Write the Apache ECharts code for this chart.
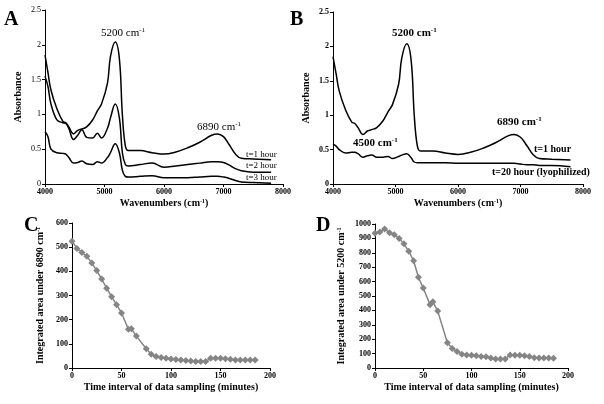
<!DOCTYPE html>
<html lang="en">
<head>
    <meta charset="UTF-8">
    <title>spectra</title>
    <script src="https://cdn.jsdelivr.net/npm/echarts@6/dist/echarts.min.js"></script>
</head>
<body style="margin:0">
<div id="main" style="width: 604px;height:404px;"></div>
<script>
    // wavenumber samples (cm-1) used for all spectra
    const wave = [4000, 4050, 4100, 4200, 4300, 4350, 4400, 4480, 4550, 4620, 4700, 4800, 4880, 4950,
        5050, 5100, 5180, 5250, 5300, 5350, 5400, 5600, 5800, 6000, 6200, 6400, 6600, 6800, 6900,
        7000, 7100, 7200, 7300, 7500, 7800];
    const abs1h = [1.85, 1.6, 1.35, 1.08, 0.9, 0.88, 0.82, 0.72, 0.77, 0.79, 0.82, 0.92, 1.05, 1.15,
        1.45, 1.83, 2.04, 1.8, 1.0, 0.55, 0.48, 0.48, 0.45, 0.43, 0.46, 0.52, 0.6, 0.7, 0.72,
        0.68, 0.56, 0.43, 0.37, 0.36, 0.35];
    const abs2h = [1.55, 1.4, 1.15, 0.92, 0.88, 0.87, 0.8, 0.64, 0.7, 0.78, 0.67, 0.66, 0.73, 0.66,
        0.8, 0.95, 1.15, 0.95, 0.45, 0.28, 0.26, 0.28, 0.3, 0.24, 0.26, 0.28, 0.3, 0.32, 0.32,
        0.31, 0.27, 0.22, 0.19, 0.17, 0.17];
    const abs3h = [0.75, 0.68, 0.5, 0.45, 0.44, 0.43, 0.38, 0.3, 0.31, 0.33, 0.29, 0.28, 0.32, 0.3,
        0.38, 0.45, 0.58, 0.45, 0.2, 0.11, 0.1, 0.11, 0.12, 0.09, 0.09, 0.09, 0.1, 0.11, 0.11,
        0.1, 0.08, 0.05, 0.03, 0.02, 0.01];
    const abs20h = [0.58, 0.55, 0.5, 0.45, 0.46, 0.46, 0.44, 0.39, 0.41, 0.42, 0.39, 0.39, 0.4, 0.37,
        0.4, 0.42, 0.44, 0.38, 0.32, 0.31, 0.31, 0.31, 0.31, 0.3, 0.3, 0.3, 0.3, 0.3, 0.3,
        0.29, 0.28, 0.28, 0.27, 0.27, 0.25];

    // sampling times (minutes) and integrated areas
    const times = [0, 5, 10, 15, 20, 25, 30, 35, 40, 45, 50, 57, 60, 65, 75, 80, 85, 90, 95, 100,
        105, 110, 115, 120, 125, 130, 135, 140, 145, 150, 155, 160, 165, 170, 175, 180, 185];
    const area6890 = [525, 495, 478, 462, 435, 403, 368, 330, 295, 262, 228, 160, 162, 132, 80, 57,
        48, 43, 40, 37, 35, 33, 31, 29, 27, 27, 27, 40, 40, 40, 38, 36, 33, 33, 33, 33, 33];
    const area5200 = [935, 945, 965, 940, 925, 900, 862, 810, 745, 630, 555, 440, 460, 395, 175, 135,
        115, 95, 90, 88, 85, 80, 78, 70, 63, 63, 63, 90, 88, 88, 85, 80, 72, 70, 70, 70, 68];

    const font = 'Liberation Serif';
    const pairs = (xs, ys) => xs.map((x, i) => [x, ys[i]]);
    const sup = {
        a: {fontFamily: font, fontSize: 10, fontWeight: 'bold', color: '#000'},
        s: {fontFamily: font, fontSize: 6, fontWeight: 'bold', color: '#000', verticalAlign: 'top', padding: [0, 0, 5, 0]}
    };

    function xAx(idx, min, max, interval, name, bold) {
        return {
            type: 'value', gridIndex: idx, min: min, max: max, interval: interval,
            name: name, nameLocation: 'middle', nameGap: 14,
            nameTextStyle: {rich: sup},
            axisLine: {lineStyle: {color: '#000', width: 1}},
            axisTick: {length: 3, lineStyle: {color: '#000'}},
            axisLabel: {fontFamily: font, fontSize: 8, fontWeight: bold ? 'bold' : 'normal', color: '#000', margin: 4,
                formatter: v => String(v)},
            splitLine: {show: false}
        };
    }
    function yAx(idx, min, max, interval, name, gap, bold) {
        return {
            type: 'value', gridIndex: idx, min: min, max: max, interval: interval,
            name: name, nameLocation: 'middle', nameGap: gap,
            nameTextStyle: {rich: sup},
            axisLine: {show: true, lineStyle: {color: '#000', width: 1}},
            axisTick: {show: true, length: 3, lineStyle: {color: '#000'}},
            axisLabel: {fontFamily: font, fontSize: 8, fontWeight: bold ? 'bold' : 'normal', color: '#000', margin: 4,
                formatter: v => String(v)},
            splitLine: {show: false}
        };
    }
    function spec(idx, ys) {
        return {
            type: 'line', xAxisIndex: idx, yAxisIndex: idx, data: pairs(wave, ys),
            smooth: 0.4, showSymbol: false, lineStyle: {color: '#000', width: 1.5}
        };
    }
    function kin(idx, ys) {
        return {
            type: 'line', xAxisIndex: idx, yAxisIndex: idx, data: pairs(times, ys),
            symbol: 'diamond', symbolSize: 7, itemStyle: {color: '#858585'},
            lineStyle: {color: '#858585', width: 1.5}
        };
    }
    function txt(x, y, t, size, bold) {
        return {
            type: 'text', left: x, top: y,
            style: {text: t, font: (bold ? 'bold ' : '') + size + 'px "' + font + '"', fill: '#000'}
        };
    }
    function wn(x, y, num, bold) {
        return {
            type: 'text', left: x, top: y,
            style: {
                text: '{a|' + num + ' cm}{s|-1}',
                rich: {
                    a: {fontFamily: font, fontSize: 11, fontWeight: bold ? 'bold' : 'normal', fill: '#000'},
                    s: {fontFamily: font, fontSize: 7, fontWeight: bold ? 'bold' : 'normal', fill: '#000', verticalAlign: 'top', padding: [0, 0, 5, 0]}
                }
            }
        };
    }

    const myChart = echarts.init(document.getElementById('main'));
    const option = {
        animation: false,
        backgroundColor: '#fff',
        grid: [
            {left: 45, top: 10, width: 238, height: 174},
            {left: 333, top: 12, width: 250, height: 172},
            {left: 72, top: 223, width: 198, height: 145},
            {left: 375, top: 224, width: 193, height: 144}
        ],
        xAxis: [
            xAx(0, 4000, 8000, 1000, '{a|Wavenumbers (cm}{s|-1}{a|)}', true),
            xAx(1, 4000, 8000, 1000, '{a|Wavenumbers (cm}{s|-1}{a|)}', true),
            xAx(2, 0, 200, 50, '{a|Time interval of data sampling (minutes)}', true),
            xAx(3, 0, 200, 50, '{a|Time interval of data sampling (minutes)}', true)
        ],
        yAxis: [
            yAx(0, 0, 2.5, 0.5, '{a|Absorbance}', 22, false),
            yAx(1, 0, 2.5, 0.5, '{a|Absorbance}', 22, true),
            yAx(2, 0, 600, 100, '{a|Integrated area under 6890 cm}{s|-1}', 26, true),
            yAx(3, 0, 1000, 100, '{a|Integrated area under 5200 cm}{s|-1}', 28, true)
        ],
        series: [
            spec(0, abs1h), spec(0, abs2h), spec(0, abs3h),
            spec(1, abs1h), spec(1, abs20h),
            kin(2, area6890), kin(3, area5200)
        ],
        graphic: [
            txt(4, 10, 'A', 20, true),
            txt(290, 10, 'B', 20, true),
            txt(24, 216, 'C', 20, true),
            txt(316, 216, 'D', 20, true),
            wn(101, 27, '5200', false),
            wn(197, 121, '6890', false),
            txt(246, 150, 't=1 hour', 9, false),
            txt(246, 161, 't=2 hour', 9, false),
            txt(246, 173, 't=3 hour', 9, false),
            wn(392, 27, '5200', true),
            wn(497, 116, '6890', true),
            wn(353, 137, '4500', true),
            txt(534, 144, 't=1 hour', 10, true),
            txt(492, 167, 't=20 hour (lyophilized)', 10, true)
        ]
    };
    myChart.setOption(option);
</script>
</body>
</html>
